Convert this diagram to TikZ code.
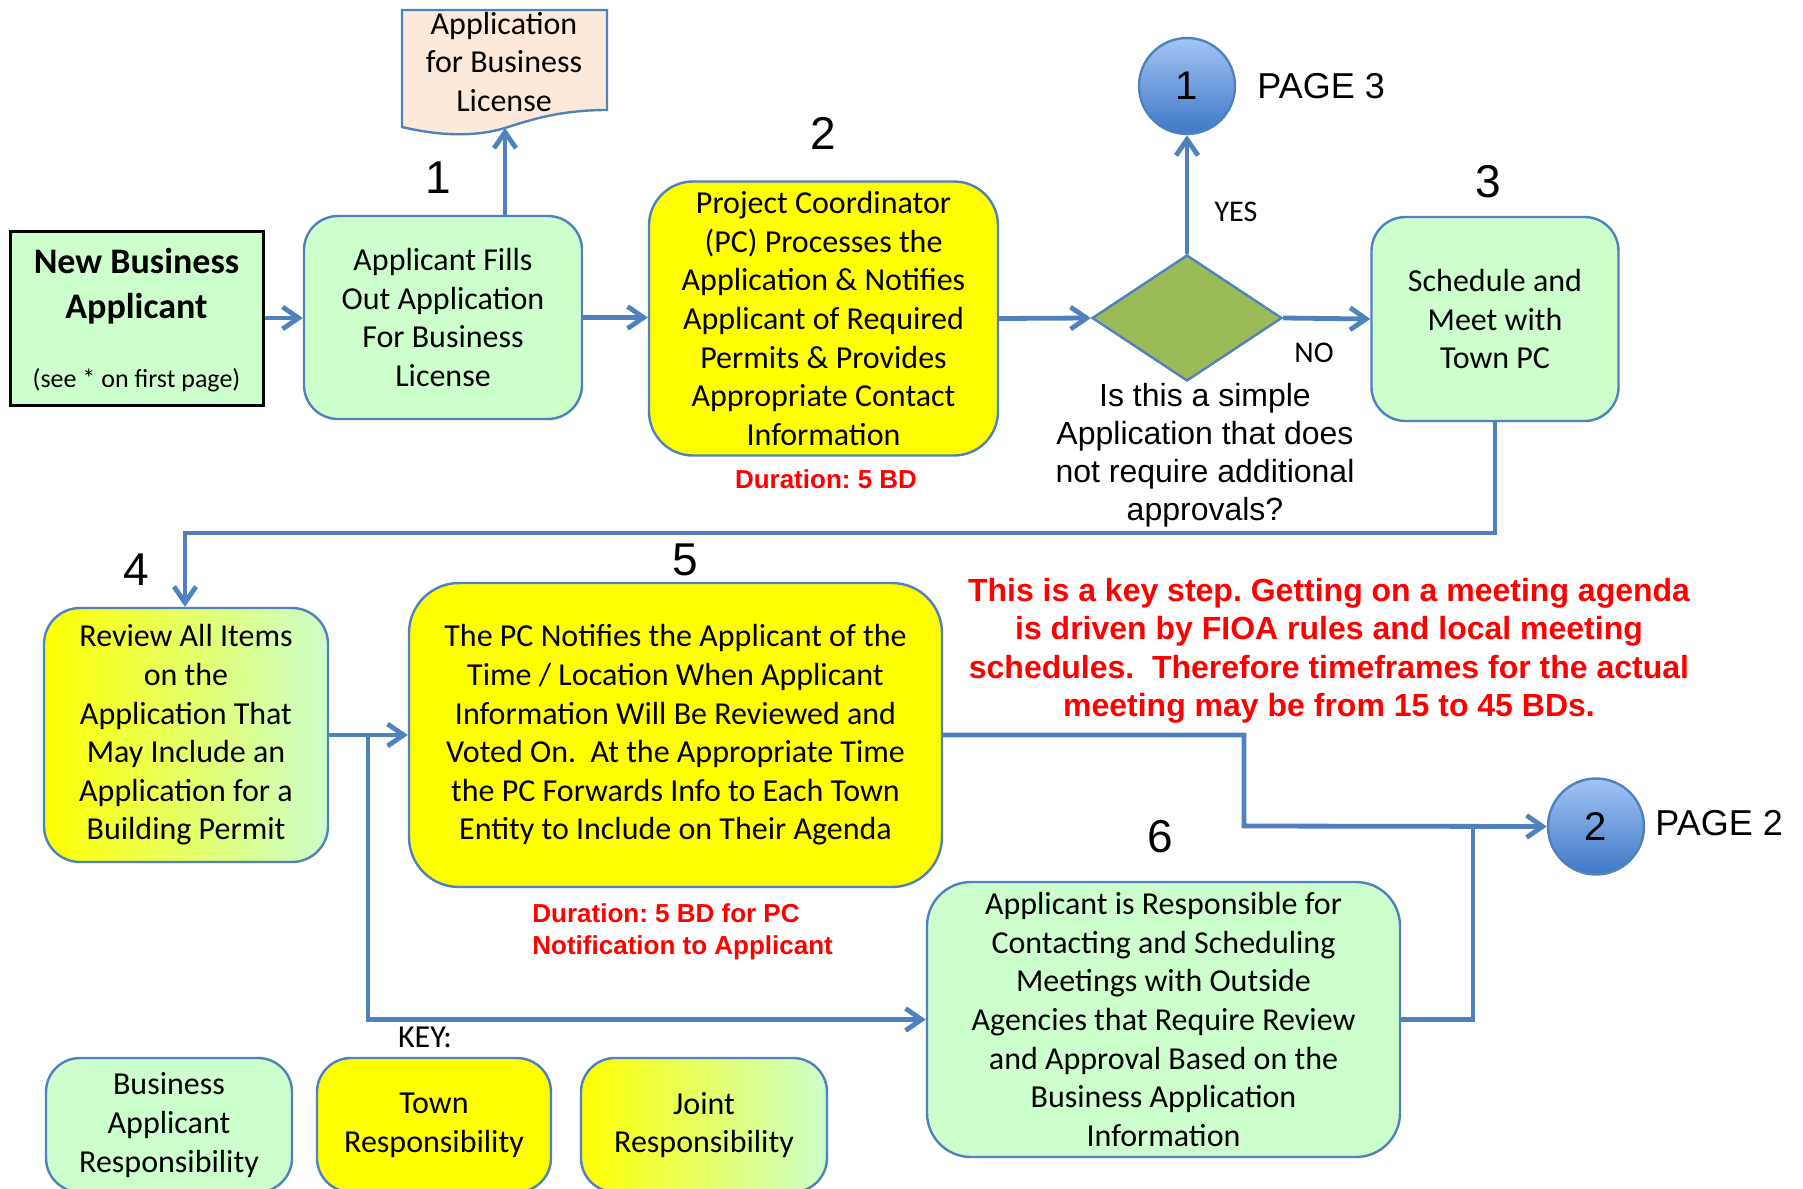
\documentclass[tikz,border=0pt]{standalone}
\usepackage{fontspec}
\setmainfont{Carlito}
\newfontfamily\arialfont{Liberation Sans}
\usetikzlibrary{arrows.meta,shapes.geometric}
\definecolor{flowblue}{HTML}{4F81BD}
\definecolor{applgreen}{HTML}{CCFFCC}
\definecolor{townyellow}{HTML}{FFFF00}
\definecolor{askolive}{HTML}{9BBB59}
\definecolor{formpeach}{HTML}{FDE9D9}
\definecolor{pagelight}{HTML}{A3C4F5}
\definecolor{pagedark}{HTML}{3E78C6}
\frenchspacing
\begin{document}
\begin{tikzpicture}[x=0.5pt,y=-0.5pt,>={Straight Barb[length=8pt,width=11pt]},
	flow/.style={draw=flowblue,line width=2.4pt},
	stepbox/.style={draw=flowblue,line width=1.2pt,rounded corners=#1,align=center,inner sep=2pt,font=\fontsize{16}{19.3}\selectfont},
	stepbox/.default=17pt,
	applbox/.style={stepbox=#1,fill=applgreen},
	applbox/.default=17pt,
	townbox/.style={stepbox=#1,fill=townyellow},
	townbox/.default=17pt,
	jointbox/.style={stepbox=#1,left color=townyellow,middle color=townyellow!65!applgreen,right color=applgreen},
	jointbox/.default=17pt,
	pagemark/.style={circle,draw=flowblue,line width=1.2pt,minimum size=48pt,inner sep=0pt,top color=pagelight,bottom color=pagedark,font=\arialfont\fontsize{20}{20}\selectfont},
	steplabel/.style={font=\arialfont\fontsize{23}{23}\selectfont},
	pagelabel/.style={anchor=west,inner sep=0pt,font=\arialfont\fontsize{18}{18}\selectfont},
	note/.style={text=red,align=center,font=\arialfont\bfseries\fontsize{16}{19.25}\selectfont},
	smallnote/.style={text=red,align=center,font=\arialfont\bfseries\fontsize{13}{15.75}\selectfont}]
	\useasboundingbox (0,0) rectangle (1803,1188);
	\clip (0,0) rectangle (1803,1188);
	% row 1
	\node[draw=black,line width=1.5pt,fill=applgreen,minimum width=126.5pt,minimum height=87pt] (nba) at (136.5,318) {};
	\node[align=center,font=\fontsize{18}{22.5}\selectfont\bfseries] (nbatitle) at (136.5,286) {New Business\\Applicant};
	\node[font=\fontsize{13}{15}\selectfont] (nbanote) at (136.5,380) {(see * on first page)};
	\node[applbox,minimum width=139pt,minimum height=101.5pt] (app) at (443,317.5) {Applicant Fills\\Out Application\\For Business\\License};
	\draw[line width=1.2pt,draw=flowblue,fill=formpeach] (402,10) -- (607,10) -- (607,110)
		.. controls (560,110) and (530,120) .. (505,128) .. controls (475,137) and (440,136) .. (402,127) -- cycle;
	\node[align=center,font=\fontsize{16}{19.3}\selectfont] (form) at (504,62) {Application\\for Business\\License};
	\coordinate (formtip) at (505,128);
	\node[townbox=22pt,minimum width=174.5pt,minimum height=137pt] (pcproc) at (823.5,318.5) {Project Coordinator\\(PC) Processes the\\Application \& Notifies\\Applicant of Required\\Permits \& Provides\\Appropriate Contact\\Information};
	\node[smallnote] (dur1) at (826,479) {Duration: 5 BD};
	\node[diamond,draw=flowblue,line width=1.2pt,fill=askolive,minimum width=95pt,minimum height=63pt,inner sep=0pt] (ask) at (1187,318) {};
	\node[align=center,font=\arialfont\fontsize{16}{19}\selectfont] (asktext) at (1205,455) {Is this a simple\\Application that does\\not require additional\\approvals?};
	\node[pagemark] (page3) at (1187,86) {1};
	\node[pagelabel] (page3txt) at (1257,86) {PAGE 3};
	\node[font=\fontsize{15}{15}\selectfont] (yes) at (1236,212) {YES};
	\node[font=\fontsize{15}{15}\selectfont] (no) at (1314,353) {NO};
	\node[applbox,minimum width=123.5pt,minimum height=102pt] (sched) at (1495,319) {Schedule and\\Meet with\\Town PC};
	% row 2
	\node[jointbox=18pt,minimum width=142pt,minimum height=127pt] (review) at (186,735) {Review All Items\\on the\\Application That\\May Include an\\Application for a\\Building Permit};
	\node[townbox=25pt,minimum width=266.5pt,minimum height=152pt] (notify) at (675.5,735) {The PC Notifies the Applicant of the\\Time / Location When Applicant\\Information Will Be Reviewed and\\Voted On.\ \ At the Appropriate Time\\the PC Forwards Info to Each Town\\Entity to Include on Their Agenda};
	\node[smallnote,align=left,anchor=west,inner sep=0pt] (dur2) at (532,932) {Duration: 5 BD for PC\\Notification to Applicant};
	\node[note] (keynote) at (1329,651) {This is a key step. Getting on a meeting agenda\\is driven by FIOA rules and local meeting\\schedules.\ \ Therefore timeframes for the actual\\meeting may be from 15 to 45 BDs.};
	\node[pagemark] (page2) at (1596,826.5) {2};
	\node[pagelabel] (page2txt) at (1655,823) {PAGE 2};
	\node[applbox=22pt,minimum width=236.5pt,minimum height=137.5pt] (outside) at (1163.5,1019.5) {Applicant is Responsible for\\Contacting and Scheduling\\Meetings with Outside\\Agencies that Require Review\\and Approval Based on the\\Business Application\\Information};
	% step numbers
	\foreach \k/\p in {1/{(438,178)},2/{(823,133)},3/{(1488,182)},4/{(136,570)},5/{(685,560)},6/{(1160,837)}}
		\node[steplabel] (num\k) at \p {\k};
	% key
	\node[font=\fontsize{16}{16}\selectfont] (key) at (425,1037) {KEY:};
	\node[applbox,minimum width=123pt,minimum height=67pt] (keyappl) at (169,1125) {Business\\Applicant\\Responsibility};
	\node[townbox,minimum width=117pt,minimum height=67pt] (keytown) at (434,1125) {Town\\Responsibility};
	\node[jointbox,minimum width=123pt,minimum height=67pt] (keyjoint) at (704,1125) {Joint\\Responsibility};
	% connectors
	\draw[flow,->] (nba.east) -- (nba.east -| app.west);
	\draw[flow,->] (app.north -| formtip) -- (formtip);
	\draw[flow,->] (app.east) -- (app.east -| pcproc.west);
	\draw[flow,->] (pcproc.east) -- (ask.west);
	\draw[flow,->] (ask.north) -- (page3.south);
	\draw[flow,->] (ask.east) -- (sched.west);
	\coordinate (back) at (185,533);
	\draw[flow,->] (sched.south) |- (back) -- (back |- review.north);
	\draw[flow,->] (review.east) -- (notify.west);
	\coordinate (split) at (368,735);
	\draw[flow,->] (split) |- (outside.west);
	\coordinate (bend) at (1244,826);
	\draw[flow,->] (notify.east) -| (bend) -- (page2.west);
	\coordinate (join) at (1473,826);
	\draw[flow] (outside.east) -| (join);
\end{tikzpicture}
\end{document}
